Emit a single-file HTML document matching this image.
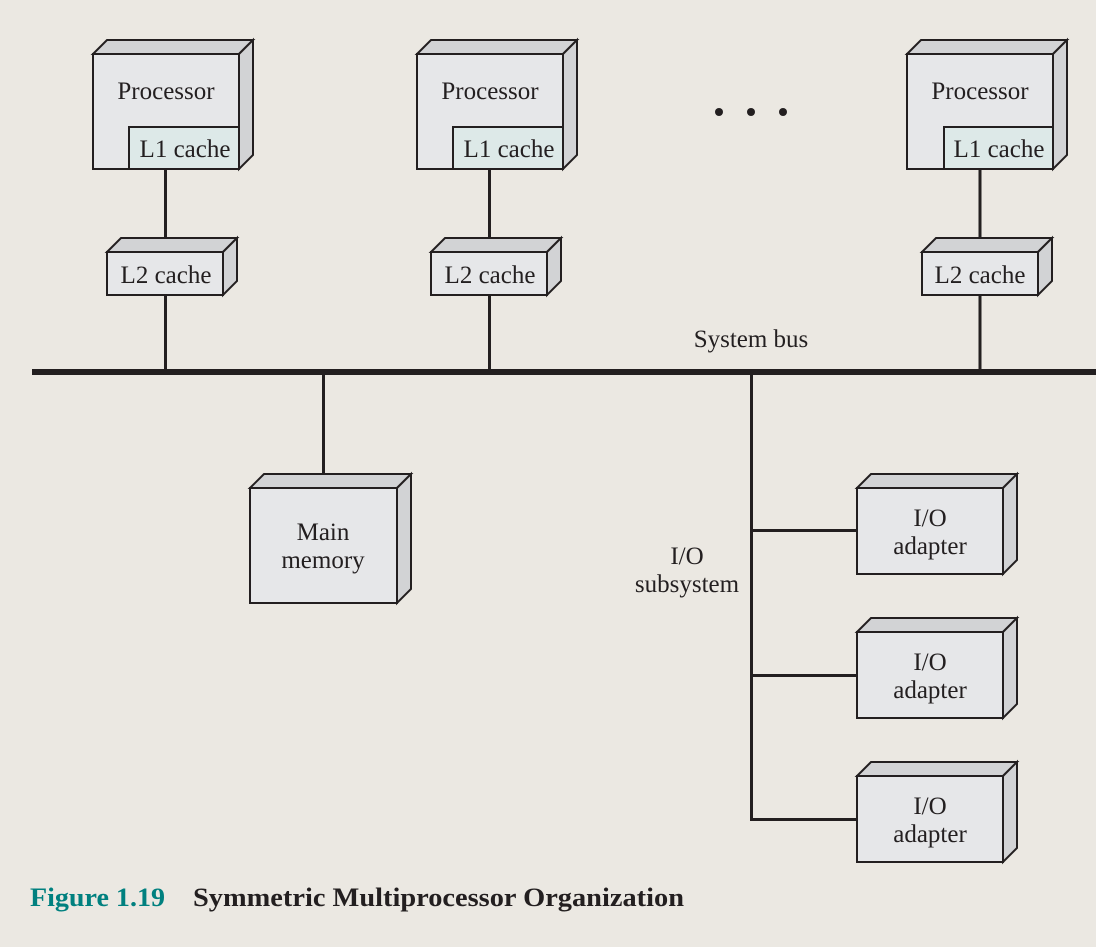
<!DOCTYPE html>
<html><head><meta charset="utf-8"><style>
html,body{margin:0;padding:0;background:#ebe8e2;}
svg{display:block;}
text{font-family:"Liberation Serif",serif;fill:#231f20;}
</style></head><body>
<svg width="1096" height="947" viewBox="0 0 1096 947" xmlns="http://www.w3.org/2000/svg">
<rect width="1096" height="947" fill="#ebe8e2"/>
<g stroke="#231f20" stroke-linejoin="miter">
<g stroke-width="3" fill="none">
<line x1="165.5" y1="169" x2="165.5" y2="252"/>
<line x1="165.5" y1="295" x2="165.5" y2="372"/>
<line x1="489.5" y1="169" x2="489.5" y2="252"/>
<line x1="489.5" y1="295" x2="489.5" y2="372"/>
<line x1="980" y1="169" x2="980" y2="252"/>
<line x1="980" y1="295" x2="980" y2="372"/>
<line x1="323.5" y1="372" x2="323.5" y2="488"/>
<polyline points="751.5,372 751.5,819.5 857,819.5"/>
<line x1="751.5" y1="530.5" x2="857" y2="530.5"/>
<line x1="751.5" y1="675.5" x2="857" y2="675.5"/>
</g>
<rect x="32" y="369" width="1064" height="6" fill="#231f20" stroke="none"/>
</g>
<g stroke="#231f20" stroke-width="2" stroke-linejoin="miter">
<polygon points="93,54 107,40 253,40 239,54" fill="#d2d3d5"/>
<polygon points="239,54 253,40 253,155 239,169" fill="#d2d3d5"/>
<rect x="93" y="54" width="146" height="115" fill="#e6e7e9"/>
<rect x="129" y="127" width="110" height="42" fill="#dde9e8"/>
<polygon points="417,54 431,40 577,40 563,54" fill="#d2d3d5"/>
<polygon points="563,54 577,40 577,155 563,169" fill="#d2d3d5"/>
<rect x="417" y="54" width="146" height="115" fill="#e6e7e9"/>
<rect x="453" y="127" width="110" height="42" fill="#dde9e8"/>
<polygon points="907,54 921,40 1067,40 1053,54" fill="#d2d3d5"/>
<polygon points="1053,54 1067,40 1067,155 1053,169" fill="#d2d3d5"/>
<rect x="907" y="54" width="146" height="115" fill="#e6e7e9"/>
<rect x="944" y="127" width="109" height="42" fill="#dde9e8"/>
<polygon points="107,252 121,238 237,238 223,252" fill="#d2d3d5"/>
<polygon points="223,252 237,238 237,281 223,295" fill="#d2d3d5"/>
<rect x="107" y="252" width="116" height="43" fill="#e6e7e9"/>
<polygon points="431,252 445,238 561,238 547,252" fill="#d2d3d5"/>
<polygon points="547,252 561,238 561,281 547,295" fill="#d2d3d5"/>
<rect x="431" y="252" width="116" height="43" fill="#e6e7e9"/>
<polygon points="922,252 936,238 1052,238 1038,252" fill="#d2d3d5"/>
<polygon points="1038,252 1052,238 1052,281 1038,295" fill="#d2d3d5"/>
<rect x="922" y="252" width="116" height="43" fill="#e6e7e9"/>
<polygon points="250,488 264,474 411,474 397,488" fill="#d2d3d5"/>
<polygon points="397,488 411,474 411,589 397,603" fill="#d2d3d5"/>
<rect x="250" y="488" width="147" height="115" fill="#e6e7e9"/>
<polygon points="857,488 871,474 1017,474 1003,488" fill="#d2d3d5"/>
<polygon points="1003,488 1017,474 1017,560 1003,574" fill="#d2d3d5"/>
<rect x="857" y="488" width="146" height="86" fill="#e6e7e9"/>
<polygon points="857,632 871,618 1017,618 1003,632" fill="#d2d3d5"/>
<polygon points="1003,632 1017,618 1017,704 1003,718" fill="#d2d3d5"/>
<rect x="857" y="632" width="146" height="86" fill="#e6e7e9"/>
<polygon points="857,776 871,762 1017,762 1003,776" fill="#d2d3d5"/>
<polygon points="1003,776 1017,762 1017,848 1003,862" fill="#d2d3d5"/>
<rect x="857" y="776" width="146" height="86" fill="#e6e7e9"/>
</g>
<circle cx="719" cy="112" r="4" fill="#231f20"/>
<circle cx="751" cy="112" r="4" fill="#231f20"/>
<circle cx="783" cy="112" r="4" fill="#231f20"/>
<g font-size="25" text-anchor="middle">
<text x="166" y="99">Processor</text>
<text x="185" y="157">L1 cache</text>
<text x="490" y="99">Processor</text>
<text x="509" y="157">L1 cache</text>
<text x="980" y="99">Processor</text>
<text x="999" y="157">L1 cache</text>
<text x="166" y="283">L2 cache</text>
<text x="490" y="283">L2 cache</text>
<text x="980" y="283">L2 cache</text>
<text x="751" y="347">System bus</text>
<text x="323" y="540">Main</text>
<text x="323" y="568">memory</text>
<text x="687" y="564">I/O</text>
<text x="687" y="592">subsystem</text>
<text x="930" y="526">I/O</text>
<text x="930" y="554">adapter</text>
<text x="930" y="670">I/O</text>
<text x="930" y="698">adapter</text>
<text x="930" y="814">I/O</text>
<text x="930" y="842">adapter</text>
</g>
<text x="30" y="906" font-size="26" font-weight="bold" style="fill:#00807f" textLength="135" lengthAdjust="spacingAndGlyphs">Figure 1.19</text>
<text x="193" y="906" font-size="26" font-weight="bold" textLength="491" lengthAdjust="spacingAndGlyphs">Symmetric Multiprocessor Organization</text>
</svg>
</body></html>
